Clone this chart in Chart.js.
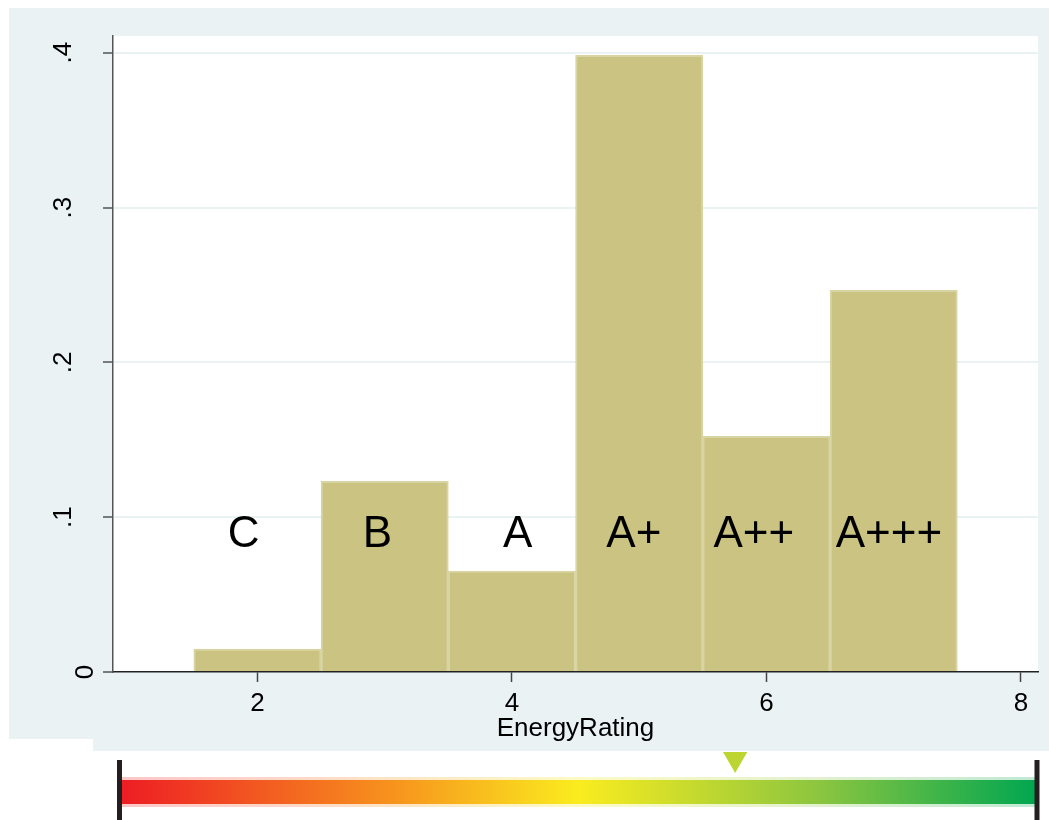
<!DOCTYPE html>
<html>
<head>
<meta charset="utf-8">
<script src="https://cdn.jsdelivr.net/npm/chart.js@4.4.0/dist/chart.umd.min.js"></script>
<style>
  html, body { margin: 0; padding: 0; background: #fff; }
  #wrap { position: relative; width: 1049px; height: 820px; overflow: hidden; }
  .bg { position: absolute; background: #eaf2f3; }
  canvas { position: absolute; left: 0; }
</style>
</head>
<body>
<div id="wrap">
  <div class="bg" style="left:9px;top:8px;width:1040px;height:731px"></div>
  <div class="bg" style="left:93px;top:739px;width:956px;height:12px"></div>
  <canvas id="hist" width="1049" height="760" style="top:0"></canvas>
  <canvas id="ramp" width="1049" height="80" style="top:740px"></canvas>
</div>
<script>
'use strict';

// histogram of energy ratings
const ratings = ['C', 'B', 'A', 'A+', 'A++', 'A+++'];
const ratingValues = [2, 3, 4, 5, 6, 7];
const density = [0.0148, 0.1232, 0.0652, 0.3983, 0.1523, 0.2465];
const labelX = [1.892, 2.942, 4.046, 4.958, 5.901, 6.963];
const labelY = 0.0806;
const xTicks = [2, 4, 6, 8];
const yTicks = [0, 0.1, 0.2, 0.3, 0.4];
const yTickLabels = ['0', '.1', '.2', '.3', '.4'];
const xTitle = 'EnergyRating';

// colour scale underneath
const rampRange = [0, 100];
const markerValue = 67.1;
const rampStops = [[0, [237, 28, 36]], [0.3, [247, 148, 29]], [0.5, [250, 236, 31]], [0.76, [141, 198, 63]], [1, [0, 166, 81]]];

const family = '"Liberation Sans", Arial, Helvetica, sans-serif';
Chart.defaults.font.family = family;

const plotBg = {
  id: 'plotBg',
  beforeDraw(chart) {
    const {ctx, chartArea: a} = chart;
    ctx.save();
    ctx.fillStyle = '#fff';
    ctx.fillRect(a.left, a.top, a.right - a.left, a.bottom - a.top);
    ctx.restore();
  }
};

const barLabels = {
  id: 'barLabels',
  afterDatasetsDraw(chart) {
    const {ctx, scales: {x, y}} = chart;
    ctx.save();
    ctx.font = '44px ' + family;
    ctx.fillStyle = '#000';
    ctx.textAlign = 'center';
    ctx.textBaseline = 'alphabetic';
    ratings.forEach((r, i) => ctx.fillText(r, x.getPixelForValue(labelX[i]), y.getPixelForValue(labelY)));
    ctx.restore();
  }
};

// stata style vertical tick labels
const yLabels = {
  id: 'yLabels',
  afterDraw(chart) {
    const {ctx, scales: {y}} = chart;
    ctx.save();
    ctx.font = '26px ' + family;
    ctx.fillStyle = '#000';
    ctx.textAlign = 'center';
    ctx.textBaseline = 'alphabetic';
    yTicks.forEach((v, i) => {
      const lbl = yTickLabels[i];
      const bx = y.right - (lbl.length > 1 ? 42 : 20);
      ctx.save();
      ctx.translate(bx, y.getPixelForValue(v));
      ctx.rotate(-Math.PI / 2);
      ctx.fillText(lbl, 0, 0);
      ctx.restore();
    });
    ctx.restore();
  }
};

new Chart(document.getElementById('hist'), {
  type: 'bar',
  data: {
    datasets: [{
      data: ratingValues.map((v, i) => ({x: v, y: density[i]})),
      backgroundColor: '#cac381',
      borderColor: '#d9d4a3',
      borderWidth: 2,
      barPercentage: 1,
      categoryPercentage: 1
    }]
  },
  options: {
    responsive: false,
    animation: false,
    layout: {padding: {top: 36, right: 11, left: 0, bottom: 0}},
    plugins: {legend: {display: false}, tooltip: {enabled: false}},
    scales: {
      x: {
        type: 'linear',
        offset: false,
        min: 0.865,
        max: 8.134,
        afterBuildTicks: s => { s.ticks = xTicks.map(v => ({value: v})); },
        afterFit: s => { s.height = 88; },
        grid: {offset: false, drawOnChartArea: false, drawTicks: true, tickLength: 10, tickColor: '#444', tickWidth: 1.5},
        border: {color: '#222', width: 1.5},
        ticks: {color: '#000', font: {size: 26}, padding: 6, maxRotation: 0},
        title: {display: true, text: xTitle, color: '#000', font: {size: 26}, padding: {top: 0, bottom: 16}}
      },
      y: {
        type: 'linear',
        min: 0,
        max: 0.4108,
        afterBuildTicks: s => { s.ticks = yTicks.map(v => ({value: v})); },
        afterFit: s => { s.width = 113; },
        grid: {
          color: c => (c.tick && c.tick.value === 0) ? 'rgba(0,0,0,0)' : '#eaf2f3',
          lineWidth: 2,
          tickColor: '#555',
          tickLength: 10,
          tickWidth: 1.5
        },
        border: {color: '#555', width: 1.5},
        ticks: {display: false}
      }
    }
  },
  plugins: [plotBg, barLabels, yLabels]
});

function rampFill(chart, alpha) {
  const a = chart.chartArea;
  if (!a) return 'rgba(0,0,0,0)';
  const g = chart.ctx.createLinearGradient(a.left, 0, a.right, 0);
  rampStops.forEach(([p, c]) => g.addColorStop(p, `rgba(${c[0]},${c[1]},${c[2]},${alpha})`));
  return g;
}

new Chart(document.getElementById('ramp'), {
  type: 'scatter',
  data: {
    datasets: [
      {
        // soft edge of the colour band
        data: rampRange.map(v => ({x: v, y: 52})),
        showLine: true,
        pointRadius: 0,
        borderWidth: 30,
        borderCapStyle: 'butt',
        borderColor: c => rampFill(c.chart, 0.25),
        clip: false,
        order: 4
      },
      {
        data: rampRange.map(v => ({x: v, y: 52})),
        showLine: true,
        pointRadius: 0,
        borderWidth: 24,
        borderCapStyle: 'butt',
        borderColor: c => rampFill(c.chart, 1),
        clip: false,
        order: 3
      },
      {
        data: rampRange.map(v => ({x: v, y: 50})),
        pointStyle: 'line',
        rotation: 90,
        radius: 30,
        borderWidth: 5,
        borderColor: '#231f20',
        clip: false,
        order: 1
      },
      {
        data: [{x: markerValue, y: 19}],
        pointStyle: 'triangle',
        rotation: 180,
        radius: 14,
        backgroundColor: '#bdd531',
        borderWidth: 0,
        clip: false,
        order: 2
      }
    ]
  },
  options: {
    responsive: false,
    animation: false,
    layout: {autoPadding: false, padding: {left: 119.5, right: 12, top: 0, bottom: 0}},
    plugins: {legend: {display: false}, tooltip: {enabled: false}},
    scales: {
      x: {type: 'linear', min: rampRange[0], max: rampRange[1], display: false},
      y: {type: 'linear', min: 0, max: 80, reverse: true, display: false}
    }
  }
});
</script>
</body>
</html>
